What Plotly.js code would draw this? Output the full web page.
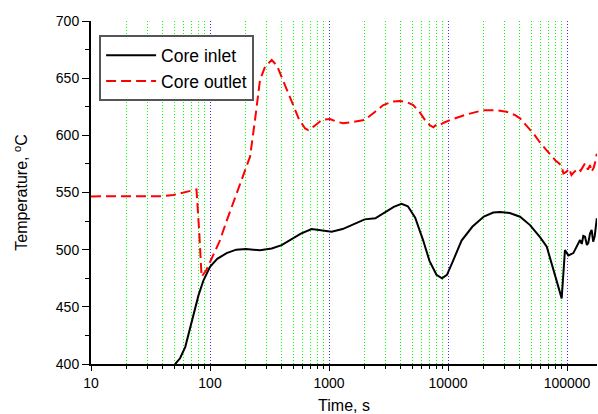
<!DOCTYPE html>
<html>
<head>
<meta charset="utf-8">
<script src="https://cdn.plot.ly/plotly-3.0.1.min.js"></script>
<style>html,body{margin:0;padding:0;background:#fff}#chart{width:598px;height:414px}</style>
</head>
<body>
<div id="chart"></div>
<script>
// Core inlet (black solid)
const inletTime = [51, 56, 62, 68, 74, 80, 88, 95, 100, 115, 138, 166, 200, 263, 330, 400, 470, 580, 714, 850, 1052, 1300, 1600, 1995, 2450, 2900, 3500, 4070, 4600, 5300, 6170, 7000, 8000, 8900, 9800, 11000, 13000, 16000, 20000, 24000, 27300, 33000, 40300, 48900, 59300, 67600, 75000, 83000, 90200, 96100, 102600, 113000, 120000, 128600, 133000, 137000, 141600, 147000, 151000, 156000, 161000, 166000, 171000, 178000];
const inletTemp = [400, 405, 415, 432, 447, 460, 473, 481, 485, 492, 497, 500, 500.5, 499.5, 501, 504, 508.4, 514, 518, 517, 515.7, 518, 522, 526.5, 527.4, 532, 537.5, 540, 538, 528, 508.4, 490, 478, 475, 478, 490, 508, 520, 529, 532.5, 533, 532, 528.8, 521.5, 511, 502.6, 487, 471, 457.4, 499.6, 495, 497, 502, 508.4, 505, 512, 511.3, 504, 506, 514, 517.2, 507, 512, 527.4];

// Core outlet (red dashed)
const outletTime = [10, 20, 30, 40, 49, 63, 70, 77, 81, 85, 93, 103, 120, 140, 167, 190, 217, 240, 263, 290, 330, 365, 398, 450, 500, 560, 630, 670, 750, 870, 1020, 1150, 1320, 1650, 1995, 2400, 2860, 3400, 3950, 4500, 5100, 5800, 6410, 7000, 7530, 8000, 8550, 9200, 10400, 14000, 19800, 25700, 31000, 36000, 40300, 46000, 52100, 60000, 72000, 80000, 86000, 90200, 93300, 97000, 99300, 104000, 109000, 115000, 124500, 130000, 137000, 141600, 150000, 156000, 161000, 168000, 173000, 178000];
const outletTemp = [546.6, 546.6, 546.6, 546.8, 547.8, 550.7, 551.8, 552.7, 517, 476.3, 482, 492.4, 507, 527, 549.3, 565, 581.3, 615, 648.4, 660, 665.9, 661, 651.3, 637, 625, 614, 606, 604.6, 608, 613.4, 614.3, 612, 610.5, 612, 613.4, 620, 626.5, 629.5, 630, 629, 626.5, 620, 613.4, 609, 607, 609.5, 609, 611, 613.4, 618, 622, 622, 620.6, 618, 614.9, 608, 601.7, 593, 584, 578, 575.5, 572.5, 566.7, 568, 568.2, 571, 565.3, 568, 571, 569, 573, 575.5, 570, 574, 568.2, 572, 577, 584];

const xTickVals = [10, 100, 1000, 10000, 100000];
const xTickText = ['10', '100', '1000', '10000', '100000'];
const yTickVals = [400, 450, 500, 550, 600, 650, 700];
const yGridVals = [450, 500, 550, 600, 650];

const xMinor = [];
for (const d of [10, 100, 1000, 10000, 100000]) {
  for (let k = 2; k <= 9; k++) xMinor.push(d * k);
}

const FONT = 'Arial, "Liberation Sans", sans-serif';

const traces = [
  {x: inletTime, y: inletTemp, name: 'Core inlet', type: 'scatter', mode: 'lines',
   line: {color: '#000000', width: 2}},
  {x: outletTime, y: outletTemp, name: 'Core outlet', type: 'scatter', mode: 'lines',
   line: {color: '#ff0000', width: 2, dash: '10px,5px'}}
];

const layout = {
  width: 598, height: 414,
  margin: {l: 91, r: 1, t: 21, b: 50},
  paper_bgcolor: '#ffffff', plot_bgcolor: '#ffffff',
  font: {family: FONT, size: 14, color: '#000'},
  showlegend: true,
  legend: {x: 0.016, y: 0.958, xanchor: 'left', yanchor: 'top',
    bgcolor: '#ffffff', bordercolor: '#555555', borderwidth: 2,
    font: {family: FONT, size: 17.5, color: '#000'}, itemwidth: 50, tracegroupgap: 0},
  xaxis: {
    type: 'log', range: [1, 5.252],
    tickvals: xTickVals, ticktext: xTickText,
    ticks: 'outside', ticklen: 5, tickwidth: 1, tickcolor: '#000',
    showline: true, linecolor: '#000', linewidth: 2,
    showgrid: true, gridcolor: '#3333ff', griddash: '1px,2px', gridwidth: 1,
    zeroline: false,
    tickfont: {family: FONT, size: 14},
    minor: {tickvals: xMinor, ticks: 'outside', ticklen: 3, tickcolor: '#000',
      showgrid: true, gridcolor: '#00ff00', griddash: '1px,2px', gridwidth: 1},
    title: {text: 'Time, s', font: {family: FONT, size: 16}, standoff: 11}
  },
  yaxis: {
    range: [400, 700], tickvals: yTickVals,
    ticks: 'outside', ticklen: 7, tickwidth: 1, tickcolor: '#000',
    showline: true, linecolor: '#000', linewidth: 2,
    showgrid: false, zeroline: false,
    tickfont: {family: FONT, size: 14},
    minor: {dtick: 25, ticks: 'outside', ticklen: 4, tickcolor: '#000', showgrid: false},
    title: {text: 'Temperature, <sup>o</sup>C', font: {family: FONT, size: 16}, standoff: 24}
  },
  yaxis2: {
    overlaying: 'y', range: [400, 700], tickvals: yGridVals,
    showticklabels: false, ticks: '', showline: false, zeroline: false,
    showgrid: true, gridcolor: '#3333ff', griddash: '1px,2px', gridwidth: 1
  }
};

Plotly.newPlot('chart', traces, layout, {staticPlot: true, displayModeBar: false});
</script>
</body>
</html>
